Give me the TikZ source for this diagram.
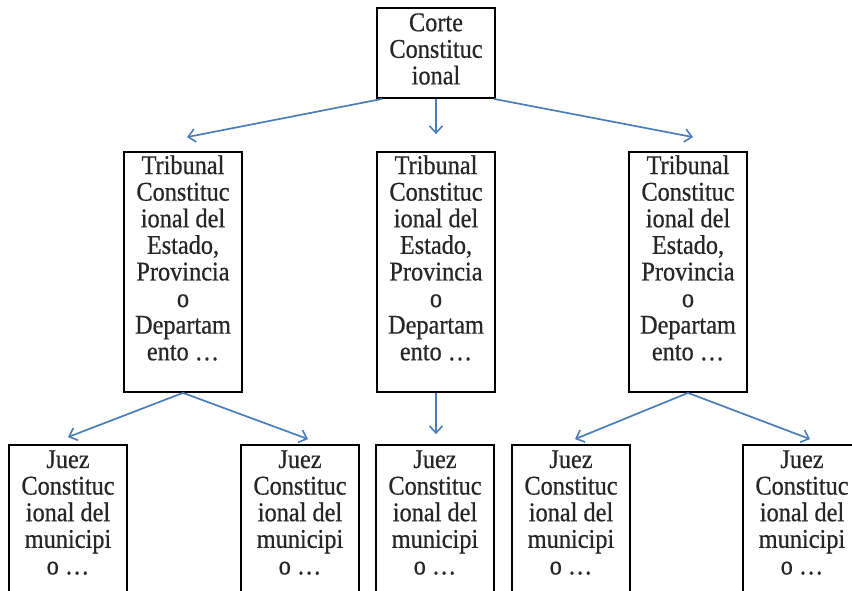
\documentclass[tikz,border=0pt]{standalone}
\usepackage{fontspec}
\setmainfont{Liberation Serif}[FakeStretch=0.9,FakeBold=0.6]
\usetikzlibrary{arrows.meta}
\definecolor{arrowblue}{RGB}{74,126,187}
\begin{document}
\begin{tikzpicture}[x=1pt,y=-1pt,
  box/.style={draw=black, line width=1.8pt, minimum width=118pt, inner sep=0pt},
  lbl/.style={anchor=north, align=center, inner sep=0pt, text=black!85,
    font=\fontsize{27pt}{26.6pt}\selectfont},
  link/.style={draw=arrowblue, line width=1.7pt,
    -{Straight Barb[length=7pt,width=13pt,line width=1.6pt]}}]
\useasboundingbox (0,0) rectangle (852,591);
\clip (0,0) rectangle (852,591);

% top level
\node[box, minimum height=90pt] (top) at (436,53) {};
\node[lbl] (toptxt) at ([yshift=-6pt]top.north) {Corte\\Constituc\\ional};

% middle level
\foreach \n/\x in {m1/183, m2/436, m3/688} {
  \node[box, minimum height=240pt] (\n) at (\x,272) {};
  \node[lbl] (\n txt) at ([yshift=-4pt]\n.north)
    {Tribunal\\Constituc\\ional del\\Estado,\\Provincia\\o\\Departam\\ento \ldots};
}

% bottom level (runs past the lower edge)
\foreach \n/\x in {b1/68, b2/300, b3/435, b4/571, b5/802} {
  \node[box, minimum height=200pt] (\n) at (\x,545) {};
  \node[lbl] (\n txt) at ([yshift=-6pt]\n.north)
    {Juez\\Constituc\\ional del\\municipi\\o \ldots};
}

% connectors
\draw[link] ([xshift=6pt]top.south west) -- ([xshift=4pt,yshift=14pt]m1.north);
\draw[link] (top.south) -- ([yshift=17pt]m2.north);
\draw[link] ([xshift=-2pt]top.south east) -- ([xshift=5pt,yshift=14pt]m3.north);

\draw[link] (m1.south) -- ([yshift=7pt]b1.north);
\draw[link] (m1.south) -- ([xshift=8pt,yshift=5pt]b2.north);
\draw[link] (m2.south) -- ([xshift=1pt,yshift=10pt]b3.north);
\draw[link] (m3.south) -- ([xshift=4pt,yshift=5pt]b4.north);
\draw[link] (m3.south) -- ([xshift=8pt,yshift=5pt]b5.north);
\end{tikzpicture}
\end{document}
